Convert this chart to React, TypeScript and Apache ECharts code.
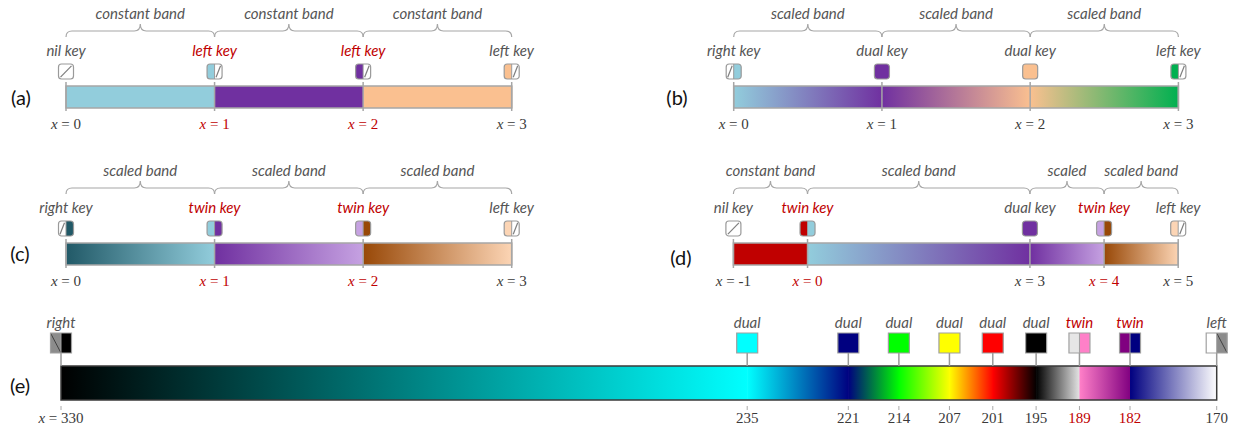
import React, { useEffect, useRef } from 'react';
import * as echarts from 'echarts';

type Band = [number, number, string, string];
type Brace = [number, number, string];
type Key = [number, string, string[], string, boolean];

// ---------- (a) ----------
const aTicks = [0, 1, 2, 3];
const aRedTicks = [1, 2];
const aBands: Band[] = [
  [0, 1, '#92cddc', '#92cddc'],
  [1, 2, '#7030a0', '#7030a0'],
  [2, 3, '#fac090', '#fac090'],
];
const aBraces: Brace[] = [
  [0, 1, 'constant band'],
  [1, 2, 'constant band'],
  [2, 3, 'constant band'],
];
const aKeys: Key[] = [
  [0, 'nil', [], 'nil key', false],
  [1, 'left', ['#92cddc'], 'left key', true],
  [2, 'left', ['#7030a0'], 'left key', true],
  [3, 'left', ['#fac090'], 'left key', false],
];

// ---------- (b) ----------
const bTicks = [0, 1, 2, 3];
const bRedTicks: number[] = [];
const bBands: Band[] = [
  [0, 1, '#92cddc', '#7030a0'],
  [1, 2, '#7030a0', '#fac090'],
  [2, 3, '#fac090', '#00b050'],
];
const bBraces: Brace[] = [
  [0, 1, 'scaled band'],
  [1, 2, 'scaled band'],
  [2, 3, 'scaled band'],
];
const bKeys: Key[] = [
  [0, 'right', ['#92cddc'], 'right key', false],
  [1, 'dual', ['#7030a0'], 'dual key', false],
  [2, 'dual', ['#fac090'], 'dual key', false],
  [3, 'left', ['#00b050'], 'left key', false],
];

// ---------- (c) ----------
const cTicks = [0, 1, 2, 3];
const cRedTicks = [1, 2];
const cBands: Band[] = [
  [0, 1, '#215967', '#92cddc'],
  [1, 2, '#7030a0', '#c6a2e2'],
  [2, 3, '#984807', '#fcd5b5'],
];
const cBraces: Brace[] = [
  [0, 1, 'scaled band'],
  [1, 2, 'scaled band'],
  [2, 3, 'scaled band'],
];
const cKeys: Key[] = [
  [0, 'right', ['#215967'], 'right key', false],
  [1, 'twin', ['#92cddc', '#7030a0'], 'twin key', true],
  [2, 'twin', ['#c6a2e2', '#984807'], 'twin key', true],
  [3, 'left', ['#fcd5b5'], 'left key', false],
];

// ---------- (d) ----------
const dTicks = [-1, 0, 3, 4, 5];
const dRedTicks = [0, 4];
const dBands: Band[] = [
  [-1, 0, '#c00000', '#c00000'],
  [0, 3, '#92cddc', '#7030a0'],
  [3, 4, '#7030a0', '#c6a2e2'],
  [4, 5, '#984807', '#fcd5b5'],
];
const dBraces: Brace[] = [
  [-1, 0, 'constant band'],
  [0, 3, 'scaled band'],
  [3, 4, 'scaled'],
  [4, 5, 'scaled band'],
];
const dKeys: Key[] = [
  [-1, 'nil', [], 'nil key', false],
  [0, 'twin', ['#c00000', '#92cddc'], 'twin key', true],
  [3, 'dual', ['#7030a0'], 'dual key', false],
  [4, 'twin', ['#c6a2e2', '#984807'], 'twin key', true],
  [5, 'left', ['#fcd5b5'], 'left key', false],
];

// ---------- (e) ----------
const eTicks = [330, 235, 221, 214, 207, 201, 195, 189, 182, 170];
const eRedTicks = [189, 182];
const eBands: Band[] = [
  [330, 235, '#000000', '#00ffff'],
  [235, 221, '#00ffff', '#000080'],
  [221, 214, '#000080', '#00ff00'],
  [214, 207, '#00ff00', '#ffff00'],
  [207, 201, '#ffff00', '#ff0000'],
  [201, 195, '#ff0000', '#000000'],
  [195, 189, '#000000', '#e6e6e6'],
  [189, 182, '#ff80c8', '#800080'],
  [182, 170, '#000080', '#ffffff'],
];
const eBraces: Brace[] = [];
const eKeys: Key[] = [
  [330, 'right', ['#000000'], 'right', false],
  [235, 'dual', ['#00ffff'], 'dual', false],
  [221, 'dual', ['#000080'], 'dual', false],
  [214, 'dual', ['#00ff00'], 'dual', false],
  [207, 'dual', ['#ffff00'], 'dual', false],
  [201, 'dual', ['#ff0000'], 'dual', false],
  [195, 'dual', ['#000000'], 'dual', false],
  [189, 'twin', ['#e6e6e6', '#ff80c8'], 'twin', true],
  [182, 'twin', ['#800080', '#000080'], 'twin', true],
  [170, 'left', ['#ffffff'], 'left', false],
];

const panelNames = ['(a)', '(b)', '(c)', '(d)', '(e)'];

const RED = '#c00000';
const TXT = '#555555';
const TICKTXT = '#3a3a3a';
const LINE = '#a6a6a6';
const LABEL_FONT = 15;
const TICK_FONT = 15;

interface Panel {
  ticks: number[]; red: number[]; bands: Band[]; braces: Brace[]; keys: Key[];
  left: number; top: number; width: number; height: number; sq: boolean; inverse: boolean;
  nameX: number; nameY: number;
}

const panels: Panel[] = [
  { ticks: aTicks, red: aRedTicks, bands: aBands, braces: aBraces, keys: aKeys, left: 66, top: 86, width: 445.7, height: 22, sq: false, inverse: false, nameX: 21, nameY: 97 },
  { ticks: bTicks, red: bRedTicks, bands: bBands, braces: bBraces, keys: bKeys, left: 733.7, top: 86, width: 444.7, height: 22, sq: false, inverse: false, nameX: 677, nameY: 97 },
  { ticks: cTicks, red: cRedTicks, bands: cBands, braces: cBraces, keys: cKeys, left: 66, top: 243, width: 445.7, height: 22, sq: false, inverse: false, nameX: 20, nameY: 253 },
  { ticks: dTicks, red: dRedTicks, bands: dBands, braces: dBraces, keys: dKeys, left: 733.4, top: 243, width: 444.8, height: 22, sq: false, inverse: false, nameX: 681, nameY: 257 },
  { ticks: eTicks, red: eRedTicks, bands: eBands, braces: eBraces, keys: eKeys, left: 61, top: 366, width: 1155.7, height: 34, sq: true, inverse: true, nameX: 20, nameY: 385 },
];

function renderKey(k: Key, cx: number, barTop: number, sq: boolean) {
  const kind = k[1], cols = k[2], label = k[3], red = k[4];
  const s = sq ? 21 : 15;
  const h = sq ? 20 : 15;
  const y0 = sq ? barTop - 33 : barTop - 22;
  const x0 = cx - s / 2;
  const r = sq ? 0 : 3;
  const nilFill = sq ? '#8c8c8c' : '#ffffff';
  const border = sq ? '#a0a0a0' : '#9a9a9a';
  const ch: any[] = [];
  if (sq) {
    ch.push({ type: 'line', shape: { x1: cx, y1: y0 + h, x2: cx, y2: barTop }, style: { stroke: '#9a9a9a', lineWidth: 1.5 } });
  }
  const slash = (hx: number, hw: number) => sq
    ? { type: 'line', shape: { x1: hx, y1: y0, x2: hx + hw, y2: y0 + h }, style: { stroke: '#404040', lineWidth: 1 } }
    : { type: 'line', shape: { x1: hx + 1.5, y1: y0 + h - 1.8, x2: hx + hw - 1.5, y2: y0 + 1.8 }, style: { stroke: '#7f7f7f', lineWidth: 1.2 } };
  if (kind === 'nil' || kind === 'dual') {
    ch.push({ type: 'rect', shape: { x: x0, y: y0, width: s, height: h, r }, style: { fill: kind === 'nil' ? nilFill : cols[0] } });
    if (kind === 'nil') ch.push(slash(x0 + 0.5, s - 1));
  } else {
    let lf = '#fff', rf = '#fff', ln = false, rn = false;
    if (kind === 'left') { lf = cols[0]; rf = nilFill; rn = true; }
    else if (kind === 'right') { lf = nilFill; rf = cols[0]; ln = true; }
    else { lf = cols[0]; rf = cols[1]; }
    ch.push({ type: 'rect', shape: { x: x0, y: y0, width: s / 2, height: h, r: [r, 0, 0, r] }, style: { fill: lf } });
    ch.push({ type: 'rect', shape: { x: cx, y: y0, width: s / 2, height: h, r: [0, r, r, 0] }, style: { fill: rf } });
    if (ln) ch.push(slash(x0, s / 2));
    if (rn) ch.push(slash(cx, s / 2));
    ch.push({ type: 'line', shape: { x1: cx, y1: y0, x2: cx, y2: y0 + h }, style: { stroke: border, lineWidth: 1 } });
  }
  ch.push({ type: 'rect', shape: { x: x0, y: y0, width: s, height: h, r }, style: { fill: 'none', stroke: border, lineWidth: 1.2 } });
  ch.push({
    type: 'text', x: cx, y: sq ? barTop - 44 : barTop - 36,
    style: { text: label, fill: red ? RED : TXT, fontSize: LABEL_FONT, fontFamily: 'Lato', fontStyle: 'italic', align: 'center', verticalAlign: 'middle' },
  });
  return { type: 'group', children: ch };
}

function buildOption() {
  const series: any[] = [];
  panels.forEach((p, i) => {
    const lo = Math.min(...p.ticks), hi = Math.max(...p.ticks);
    // colour bands
    series.push({
      type: 'custom', xAxisIndex: i, yAxisIndex: i, silent: true, z: 2,
      data: p.bands.map((b) => [b[0], b[1]]),
      renderItem: (params: any, api: any) => {
        const b = p.bands[params.dataIndex];
        const a = api.coord([api.value(0), 1]);
        const c = api.coord([api.value(1), 0]);
        const flip = a[0] > c[0];
        const left = Math.min(a[0], c[0]);
        const right = Math.max(a[0], c[0]);
        return {
          type: 'rect',
          shape: { x: left, y: a[1], width: right - left + 0.6, height: c[1] - a[1] },
          style: {
            fill: new echarts.graphic.LinearGradient(0, 0, 1, 0, [
              { offset: 0, color: flip ? b[3] : b[2] },
              { offset: 1, color: flip ? b[2] : b[3] },
            ]),
          },
        };
      },
    });
    // frame
    series.push({
      type: 'custom', xAxisIndex: i, yAxisIndex: i, silent: true, z: 3,
      data: [[lo, hi]],
      renderItem: (params: any, api: any) => {
        const a = api.coord([api.value(0), 1]);
        const c = api.coord([api.value(1), 0]);
        const left = Math.min(a[0], c[0]);
        const right = Math.max(a[0], c[0]);
        return {
          type: 'rect',
          shape: { x: left, y: a[1], width: right - left, height: c[1] - a[1] },
          style: { fill: 'none', stroke: p.sq ? '#3a3a3a' : LINE, lineWidth: 1.5 },
        };
      },
    });
    // tick lines
    series.push({
      type: 'custom', xAxisIndex: i, yAxisIndex: i, silent: true, z: 4,
      data: p.ticks.map((t) => [t, 0]),
      renderItem: (params: any, api: any) => {
        const x = api.coord([api.value(0), 0])[0];
        const yTop = api.coord([api.value(0), 1])[1];
        const yBot = api.coord([api.value(0), 0])[1];
        return p.sq
          ? { type: 'line', shape: { x1: x, y1: yBot + 6, x2: x, y2: yBot + 10 }, style: { stroke: '#aaaaaa', lineWidth: 1 } }
          : { type: 'line', shape: { x1: x, y1: yTop - 4, x2: x, y2: yBot + 3 }, style: { stroke: LINE, lineWidth: 1.5 } };
      },
    });
    // braces
    if (p.braces.length) {
      series.push({
        type: 'custom', xAxisIndex: i, yAxisIndex: i, silent: true, z: 4,
        data: p.braces.map((b) => [b[0], b[1]]),
        renderItem: (params: any, api: any) => {
          const b = p.braces[params.dataIndex];
          const x0 = api.coord([api.value(0), 1])[0];
          const x1 = api.coord([api.value(1), 1])[0];
          const barTop = api.coord([api.value(0), 1])[1];
          const yL = barTop - 55, yT = barTop - 49, yP = barTop - 62, m = (x0 + x1) / 2, rr = 6;
          const d = `M${x0},${yT} Q${x0},${yL} ${x0 + rr},${yL} L${m - rr},${yL} Q${m},${yL} ${m},${yP} Q${m},${yL} ${m + rr},${yL} L${x1 - rr},${yL} Q${x1},${yL} ${x1},${yT}`;
          return {
            type: 'group',
            children: [
              { type: 'path', shape: { pathData: d }, style: { stroke: LINE, fill: 'none', lineWidth: 1.2 } },
              {
                type: 'text', x: m, y: barTop - 73,
                style: { text: b[2], fill: TXT, fontSize: LABEL_FONT, fontFamily: 'Lato', fontStyle: 'italic', align: 'center', verticalAlign: 'middle' },
              },
            ],
          };
        },
      });
    }
    // keys
    series.push({
      type: 'custom', xAxisIndex: i, yAxisIndex: i, silent: true, z: 5,
      data: p.keys.map((k) => [k[0], 0]),
      renderItem: (params: any, api: any) => {
        const k = p.keys[params.dataIndex];
        const cx = api.coord([api.value(0), 1])[0];
        const barTop = api.coord([api.value(0), 1])[1];
        return renderKey(k, cx, barTop, p.sq);
      },
    });
  });

  const rich = {
    gi: { fontFamily: 'Liberation Serif', fontSize: TICK_FONT, fontStyle: 'italic', color: TICKTXT },
    gn: { fontFamily: 'Liberation Serif', fontSize: TICK_FONT, color: TICKTXT },
    ri: { fontFamily: 'Liberation Serif', fontSize: TICK_FONT, fontStyle: 'italic', color: RED },
    rn: { fontFamily: 'Liberation Serif', fontSize: TICK_FONT, color: RED },
  };

  return {
    animation: false,
    backgroundColor: '#ffffff',
    grid: panels.map((p) => ({ left: p.left, top: p.top, width: p.width, height: p.height })),
    xAxis: panels.map((p, i) => ({
      type: 'value', gridIndex: i,
      min: Math.min(...p.ticks), max: Math.max(...p.ticks), inverse: p.inverse,
      axisLine: { show: false }, axisTick: { show: false }, splitLine: { show: false },
      axisLabel: {
        customValues: p.ticks,
        showMinLabel: true, showMaxLabel: true, hideOverlap: false,
        margin: p.sq ? 10 : 8,
        fontFamily: 'Liberation Serif', fontSize: TICK_FONT, color: TICKTXT,
        rich,
        formatter: (v: number) => {
          const red = p.red.indexOf(v) >= 0;
          if (p.sq && v !== 330) return red ? `{rn|${v}}` : `{gn|${v}}`;
          return red ? `{ri|x}{rn| = ${v}}` : `{gi|x}{gn| = ${v}}`;
        },
      },
    })),
    yAxis: panels.map((_, i) => ({ type: 'value', gridIndex: i, min: 0, max: 1, show: false })),
    series,
    graphic: panels.map((p, i) => ({
      type: 'text', x: p.nameX, y: p.nameY,
      style: { text: panelNames[i], fill: '#111111', fontSize: 20, fontFamily: 'Lato', align: 'center', verticalAlign: 'middle' },
    })),
  };
}

export default function App() {
  const ref = useRef<HTMLDivElement>(null);
  useEffect(() => {
    const chart = echarts.init(ref.current!, null, { renderer: 'svg' });
    chart.setOption(buildOption() as any);
    return () => chart.dispose();
  }, []);
  return (
    <div
      ref={ref}
      style={{ position: 'absolute', left: 0, top: 0, width: 1241, height: 434, background: '#ffffff' }}
    />
  );
}
